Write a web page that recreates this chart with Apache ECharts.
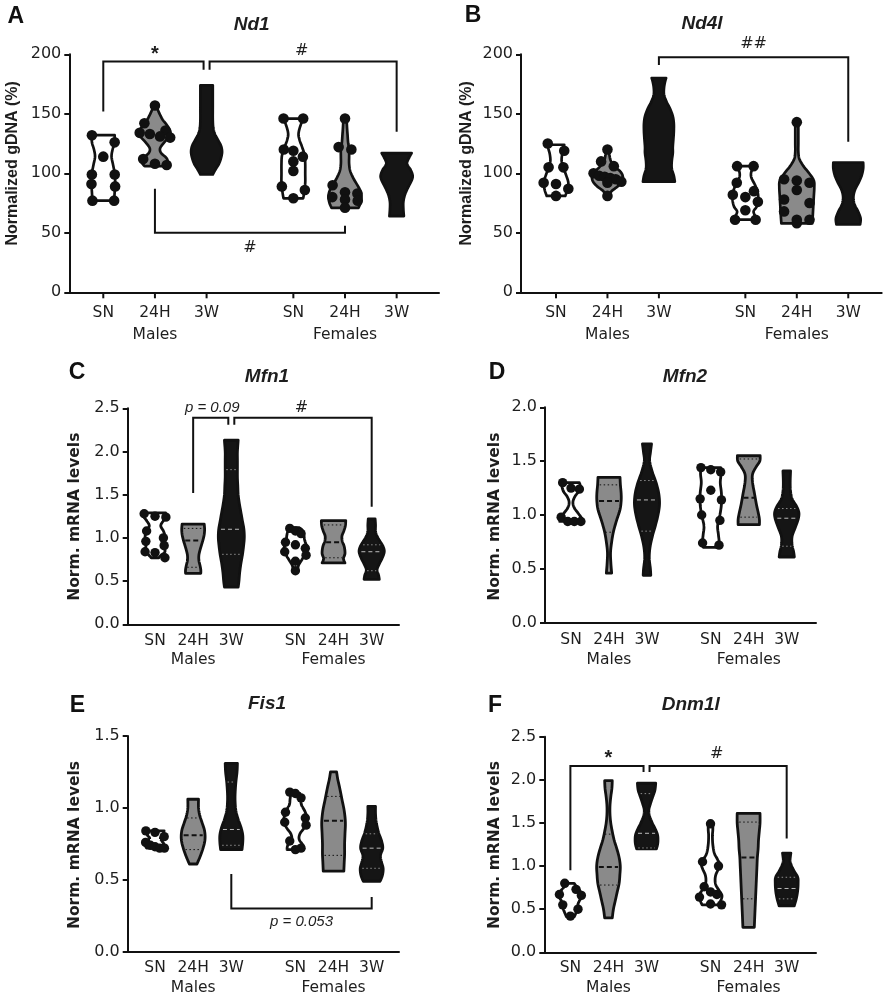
<!DOCTYPE html>
<html><head><meta charset="utf-8">
<script src="https://cdn.jsdelivr.net/npm/echarts@6/dist/echarts.min.js"></script>
<style>html,body{margin:0;padding:0;background:#fff}#c{width:891px;height:1000px}</style>
</head><body><div id="c"></div>
<script>
// ---------------- DATA ----------------
const groupLabels = ['SN','24H','3W','SN','24H','3W'];
const sexLabels = ['Males','Females'];

// violin profiles: [value, half-width in category units]
const nd1Violins = [
  [[77,0.21],[84,0.22],[92,0.23],[100,0.22],[107,0.19],[114,0.16],[120,0.18],[126,0.22],[132,0.22]],
  [[106,0.2],[109,0.25],[113,0.22],[117,0.12],[121,0.1],[126,0.18],[131,0.28],[135,0.3],[140,0.24],[145,0.15],[150,0.09],[154,0.05],[157,0.03]],
  [[99,0.12],[103,0.17],[108,0.24],[113,0.28],[118,0.3],[123,0.28],[128,0.22],[133,0.16],[138,0.13],[145,0.12],[155,0.12],[165,0.12],[170,0.12],[174,0.12]],
  [[79,0.19],[84,0.21],[92,0.23],[100,0.23],[108,0.23],[115,0.22],[122,0.17],[128,0.12],[133,0.1],[139,0.13],[146,0.19]],
  [[71,0.26],[75,0.3],[80,0.32],[85,0.3],[90,0.24],[96,0.16],[102,0.1],[108,0.08],[114,0.08],[120,0.08],[126,0.06],[132,0.05],[138,0.04],[146,0.03]],
  [[64,0.14],[70,0.13],[76,0.13],[82,0.16],[88,0.22],[94,0.29],[98,0.31],[103,0.27],[108,0.2],[113,0.24],[117,0.29]]
];
const nd1Points = [
  [132,126,114,99,99,91,89,77,77],
  [157,142,136,134,133,131,130,112,108,107],
  [],
  [146,146,120,119,114,110,102,89,86,79],
  [146,122,120,90,84,83,80,78,77,71],
  []
];
const nd1Quartiles = [null,null,null,null,null,null];
// brackets: [fromGroup, toGroup, startY, barY, endY, label, labelY]
const nd1Brackets = [
  [0,2,152,194,187,'*',203],
  [2,5,187,194,135,'#',203],
  [1,4,87,50,56,'#',37]
];

const nd4lViolins = [
  [[81,0.18],[86,0.22],[92,0.24],[98,0.2],[104,0.15],[110,0.11],[116,0.12],[121,0.15],[124,0.16]],
  [[81,0.03],[85,0.08],[89,0.2],[93,0.28],[97,0.3],[101,0.26],[105,0.16],[110,0.07],[115,0.04],[120,0.03]],
  [[93,0.31],[98,0.29],[104,0.25],[110,0.25],[117,0.27],[122,0.27],[128,0.28],[135,0.29],[142,0.29],[148,0.27],[154,0.22],[160,0.15],[166,0.1],[172,0.1],[177,0.12],[180,0.14]],
  [[61,0.2],[64,0.19],[68,0.16],[72,0.22],[78,0.25],[84,0.24],[90,0.19],[96,0.12],[100,0.11],[104,0.14],[106,0.16]],
  [[58,0.3],[64,0.31],[72,0.32],[80,0.33],[88,0.34],[94,0.33],[100,0.24],[106,0.13],[112,0.05],[118,0.03],[125,0.03],[132,0.03],[138,0.03],[143,0.03]],
  [[57,0.23],[62,0.24],[68,0.19],[74,0.12],[80,0.1],[86,0.13],[92,0.2],[98,0.26],[104,0.29],[109,0.29]]
];
const nd4lPoints = [
  [125,119,105,105,92,91,87,81],
  [120,110,106,100,98,97,96,95,93,92,81],
  [],
  [106,106,92,85,82,80,76,69,61,61],
  [143,95,94,92,86,78,75,68,61,61,58],
  []
];
const nd4lQuartiles = [null,null,null,null,null,null];
const nd4lBrackets = [
  [2,5,191,197.5,126.6,'##',209]
];

const mfn1Violins = [
  [[0.77,0.1],[0.8,0.16],[0.84,0.26],[0.9,0.24],[0.96,0.24],[1.02,0.26],[1.08,0.22],[1.14,0.15],[1.2,0.22],[1.25,0.3],[1.29,0.28]],
  [[0.59,0.2],[0.63,0.2],[0.68,0.18],[0.74,0.15],[0.8,0.15],[0.86,0.18],[0.92,0.22],[0.98,0.26],[1.04,0.29],[1.1,0.3],[1.16,0.29]],
  [[0.43,0.18],[0.5,0.2],[0.6,0.22],[0.7,0.25],[0.8,0.29],[0.9,0.32],[1.0,0.34],[1.1,0.33],[1.2,0.29],[1.3,0.25],[1.4,0.21],[1.5,0.18],[1.6,0.17],[1.7,0.16],[1.8,0.16],[1.9,0.16],[2.0,0.16],[2.13,0.18]],
  [[0.62,0.06],[0.68,0.08],[0.74,0.16],[0.8,0.24],[0.86,0.3],[0.92,0.28],[0.98,0.24],[1.04,0.22],[1.09,0.18],[1.12,0.1]],
  [[0.71,0.3],[0.76,0.26],[0.82,0.3],[0.9,0.28],[0.96,0.23],[1.02,0.22],[1.08,0.27],[1.14,0.31],[1.2,0.32]],
  [[0.52,0.2],[0.57,0.18],[0.63,0.14],[0.7,0.2],[0.77,0.28],[0.84,0.33],[0.9,0.3],[0.96,0.22],[1.02,0.14],[1.08,0.1],[1.15,0.1],[1.22,0.09]]
];
const mfn1Points = [
  [1.28,1.25,1.24,1.08,1.0,0.96,0.91,0.84,0.83,0.77],
  [],[],
  [1.11,1.08,1.05,0.95,0.92,0.88,0.84,0.8,0.73,0.62],
  [],[]
];
const mfn1Quartiles = [[0.84,1.0,1.24],[0.66,0.97,1.11],[0.81,1.1,1.79],[0.79,0.9,1.05],[0.77,0.95,1.15],[0.62,0.84,0.92]];
const mfn1Brackets = [
  [1,2,1.52,2.39,2.31,'p = 0.09',2.5],
  [2,5,2.31,2.39,1.36,'#',2.5]
];

const mfn2Violins = [
  [[0.94,0.3],[0.97,0.28],[1.02,0.18],[1.07,0.08],[1.12,0.05],[1.17,0.1],[1.22,0.2],[1.27,0.24],[1.30,0.22]],
  [[0.46,0.07],[0.55,0.05],[0.65,0.04],[0.75,0.07],[0.85,0.12],[0.95,0.2],[1.05,0.29],[1.13,0.32],[1.2,0.32],[1.28,0.3],[1.35,0.29]],
  [[0.44,0.1],[0.5,0.09],[0.6,0.06],[0.7,0.08],[0.8,0.14],[0.9,0.22],[1.0,0.29],[1.1,0.33],[1.2,0.31],[1.3,0.24],[1.4,0.14],[1.5,0.07],[1.58,0.09],[1.66,0.12]],
  [[0.70,0.2],[0.75,0.22],[0.82,0.2],[0.9,0.18],[1.0,0.24],[1.1,0.28],[1.2,0.28],[1.3,0.25],[1.38,0.27],[1.44,0.26]],
  [[0.91,0.28],[0.96,0.28],[1.02,0.25],[1.1,0.2],[1.2,0.15],[1.3,0.1],[1.38,0.1],[1.45,0.2],[1.5,0.29],[1.55,0.3]],
  [[0.61,0.2],[0.66,0.18],[0.72,0.14],[0.8,0.14],[0.88,0.22],[0.96,0.3],[1.02,0.32],[1.08,0.26],[1.15,0.14],[1.22,0.1],[1.3,0.09],[1.41,0.1]]
];
const mfn2Points = [
  [1.30,1.25,1.24,0.98,0.94,0.94,0.94],
  [],[],
  [1.44,1.42,1.40,1.23,1.15,1.14,1.0,0.95,0.74,0.72],
  [],[]
];
const mfn2Quartiles = [null,[0.84,1.13,1.28],[0.85,1.14,1.32],[0.9,1.15,1.4],[0.98,1.16,1.52],[0.71,0.97,1.06]];
const mfn2Brackets = [];

const fis1Violins = [
  [[0.72,0.22],[0.74,0.25],[0.77,0.18],[0.79,0.14],[0.81,0.2],[0.84,0.24]],
  [[0.61,0.1],[0.66,0.18],[0.72,0.26],[0.78,0.31],[0.84,0.3],[0.9,0.23],[0.95,0.17],[1.0,0.14],[1.06,0.14]],
  [[0.71,0.28],[0.76,0.3],[0.81,0.3],[0.86,0.26],[0.92,0.18],[0.98,0.12],[1.04,0.1],[1.1,0.1],[1.18,0.12],[1.25,0.15],[1.31,0.16]],
  [[0.71,0.22],[0.74,0.2],[0.78,0.1],[0.82,0.12],[0.87,0.25],[0.92,0.3],[0.97,0.26],[1.02,0.16],[1.06,0.14],[1.1,0.12]],
  [[0.56,0.27],[0.62,0.28],[0.68,0.29],[0.75,0.29],[0.82,0.3],[0.9,0.31],[0.98,0.28],[1.06,0.22],[1.14,0.16],[1.2,0.11],[1.25,0.08]],
  [[0.49,0.22],[0.53,0.28],[0.58,0.3],[0.63,0.25],[0.67,0.23],[0.72,0.29],[0.77,0.26],[0.83,0.18],[0.9,0.12],[0.96,0.1],[1.01,0.1]]
];
const fis1Points = [
  [0.84,0.83,0.80,0.76,0.74,0.73,0.72,0.72],
  [],[],
  [1.11,1.10,1.07,0.97,0.93,0.90,0.88,0.77,0.72,0.71],
  [],[]
];
const fis1Quartiles = [[0.74,0.78,0.82],[0.71,0.81,0.93],[0.74,0.85,1.18],[0.75,0.9,1.0],[0.67,0.91,1.08],[0.58,0.72,0.82]];
const fis1Brackets = [
  [2,5,0.54,0.30,0.38,'p = 0.053',0.21]
];

const dnm1lViolins = [
  [[0.41,0.1],[0.46,0.15],[0.52,0.2],[0.56,0.2],[0.6,0.24],[0.65,0.3],[0.7,0.27],[0.75,0.18],[0.8,0.1]],
  [[0.4,0.1],[0.5,0.13],[0.6,0.18],[0.7,0.23],[0.8,0.28],[0.9,0.3],[1.0,0.31],[1.1,0.28],[1.2,0.22],[1.3,0.15],[1.4,0.1],[1.5,0.06],[1.6,0.04],[1.7,0.04],[1.8,0.06],[1.9,0.09],[1.99,0.1]],
  [[1.2,0.26],[1.25,0.29],[1.3,0.3],[1.36,0.29],[1.42,0.24],[1.5,0.15],[1.58,0.08],[1.65,0.06],[1.72,0.1],[1.8,0.16],[1.88,0.22],[1.96,0.24]],
  [[0.55,0.22],[0.6,0.27],[0.66,0.3],[0.72,0.22],[0.78,0.14],[0.84,0.12],[0.9,0.14],[0.96,0.2],[1.02,0.24],[1.08,0.18],[1.15,0.1],[1.25,0.06],[1.35,0.05],[1.42,0.06],[1.49,0.06]],
  [[0.29,0.15],[0.4,0.16],[0.5,0.17],[0.6,0.18],[0.7,0.19],[0.8,0.2],[0.9,0.21],[1.0,0.22],[1.1,0.23],[1.2,0.25],[1.3,0.26],[1.4,0.28],[1.5,0.3],[1.61,0.3]],
  [[0.54,0.2],[0.6,0.24],[0.66,0.27],[0.72,0.29],[0.8,0.3],[0.87,0.29],[0.94,0.2],[1.0,0.13],[1.06,0.09],[1.12,0.1],[1.15,0.11]]
];
const dnm1lPoints = [
  [0.80,0.73,0.67,0.66,0.55,0.50,0.42],
  [],[],
  [1.49,1.05,1.0,0.76,0.70,0.67,0.64,0.56,0.55],
  [],[]
];
const dnm1lQuartiles = [[0.5,0.6,0.72],[0.78,0.99,1.37],[1.21,1.38,1.84],[0.62,0.7,1.02],[0.62,1.1,1.51],[0.62,0.74,0.87]];
const dnm1lBrackets = [
  [0,2,0.95,2.16,2.09,'*',2.29],
  [2,5,2.09,2.16,1.32,'#',2.3]
];

// ---------------- LAYOUT / STYLE ----------------
const GAP = 1.68;
const POS = [1,2,3,3+GAP,4+GAP,5+GAP];
const FILLS = ['#ffffff','#8a8a8a','#151515'];
const TXT = '#1e1e1e';

const panels = [
  {letter:'A', title:'Nd1', ytitle:'Normalized gDNA (%)', ymax:200, step:50, dec:0,
   V:nd1Violins, P:nd1Points, Q:nd1Quartiles, B:nd1Brackets,
   grid:{left:69.3, top:54.3, width:369.7, height:238}, xmin:0.342, xmax:7.5,
   ticks:true, lblOff:21, grpOff:42.7, r:5.3, lw:2.7,
   titleXY:[251.7,25], letterXY:[15.8,17], ytXY:[13,163.3], ytFont:'bold 16px "Liberation Sans"'},
  {letter:'B', title:'Nd4l', ytitle:'Normalized gDNA (%)', ymax:200, step:50, dec:0,
   V:nd4lViolins, P:nd4lPoints, Q:nd4lQuartiles, B:nd4lBrackets,
   grid:{left:521, top:54.3, width:360.7, height:238}, xmin:0.32, xmax:7.33,
   ticks:true, lblOff:21, grpOff:42.7, r:5.3, lw:2.7,
   titleXY:[702,24], letterXY:[473,16], ytXY:[466.5,163.3], ytFont:'bold 16px "Liberation Sans"'},
  {letter:'C', title:'Mfn1', ytitle:'Norm. mRNA levels', ymax:2.5, step:0.5, dec:1,
   V:mfn1Violins, P:mfn1Points, Q:mfn1Quartiles, B:mfn1Brackets,
   grid:{left:127.7, top:408.3, width:271.3, height:216}, xmin:0.284, xmax:7.396,
   ticks:false, lblOff:16.5, grpOff:36, r:4.7, lw:2.8,
   titleXY:[267,377], letterXY:[77,372.5], ytXY:[75,516.7], ytFont:'bold 15.5px "DejaVu Sans"'},
  {letter:'D', title:'Mfn2', ytitle:'Norm. mRNA levels', ymax:2.0, step:0.5, dec:1,
   V:mfn2Violins, P:mfn2Points, Q:mfn2Quartiles, B:mfn2Brackets,
   grid:{left:545, top:407.3, width:271, height:215.4}, xmin:0.315, xmax:7.45,
   ticks:false, lblOff:17, grpOff:37, r:4.7, lw:2.8,
   titleXY:[685,377], letterXY:[497,373], ytXY:[495,516.7], ytFont:'bold 15.5px "DejaVu Sans"'},
  {letter:'E', title:'Fis1', ytitle:'Norm. mRNA levels', ymax:1.5, step:0.5, dec:1,
   V:fis1Violins, P:fis1Points, Q:fis1Quartiles, B:fis1Brackets,
   grid:{left:127.7, top:736, width:271.3, height:215.7}, xmin:0.284, xmax:7.396,
   ticks:false, lblOff:16.5, grpOff:36.5, r:4.7, lw:2.8,
   titleXY:[267,703.5], letterXY:[77.5,706], ytXY:[75,845], ytFont:'bold 15.5px "DejaVu Sans"'},
  {letter:'F', title:'Dnm1l', ytitle:'Norm. mRNA levels', ymax:2.5, step:0.5, dec:1,
   V:dnm1lViolins, P:dnm1lPoints, Q:dnm1lQuartiles, B:dnm1lBrackets,
   grid:{left:544.3, top:736.7, width:271.7, height:215.6}, xmin:0.315, xmax:7.45,
   ticks:false, lblOff:16, grpOff:36, r:4.7, lw:2.8,
   titleXY:[690.7,704.5], letterXY:[495,706], ytXY:[495,845], ytFont:'bold 15.5px "DejaVu Sans"'}
];

// ---------------- HELPERS ----------------
function catmull(pts, seg) {
  seg = seg || 6;
  const out = [];
  for (let i = 0; i < pts.length - 1; i++) {
    const p0 = pts[Math.max(i-1,0)], p1 = pts[i], p2 = pts[i+1], p3 = pts[Math.min(i+2, pts.length-1)];
    for (let k = 0; k < seg; k++) {
      const t = k/seg, t2 = t*t, t3 = t2*t;
      out.push([0,1].map(j => 0.5*((2*p1[j]) + (-p0[j]+p2[j])*t + (2*p0[j]-5*p1[j]+4*p2[j]-p3[j])*t2 + (-p0[j]+3*p1[j]-3*p2[j]+p3[j])*t3)));
    }
  }
  out.push(pts[pts.length-1]);
  return out;
}
function hwAt(prof, v) {
  if (v <= prof[0][0]) return prof[0][1];
  for (let i = 0; i < prof.length - 1; i++) {
    const a = prof[i], b = prof[i+1];
    if (v >= a[0] && v <= b[0]) return a[1] + (b[1]-a[1]) * (v-a[0])/(b[0]-a[0]);
  }
  return prof[prof.length-1][1];
}

// ---------------- OPTION ----------------
const grids = [], xAxes = [], yAxes = [], series = [], graphics = [];

panels.forEach((p, k) => {
  grids.push(Object.assign({containLabel:false}, p.grid));
  xAxes.push({type:'value', gridIndex:k, min:p.xmin, max:p.xmax,
    axisLine:{show:true, onZero:false, lineStyle:{color:'#111', width:2}},
    axisTick:{show:false}, axisLabel:{show:false}, splitLine:{show:false}});
  yAxes.push({type:'value', gridIndex:k, min:0, max:p.ymax, interval:p.step,
    axisLine:{show:true, lineStyle:{color:'#111', width:2}},
    axisTick:{show:true, length:5, lineStyle:{color:'#111', width:2}},
    axisLabel:{margin:8, color:TXT, fontFamily:'DejaVu Sans', fontSize:16,
      formatter: v => v.toFixed(p.dec)},
    splitLine:{show:false}});

  const baseData = POS.map((x, i) => [x, 0, i]);

  // violins + quartile lines
  series.push({type:'custom', xAxisIndex:k, yAxisIndex:k, clip:false, silent:true,
    data: baseData, encode:{x:0, y:1},
    renderItem: (params, api) => {
      const i = api.value(2), x = POS[i], prof = p.V[i];
      const left = prof.map(([v, w]) => api.coord([x - w, v]));
      const right = prof.map(([v, w]) => api.coord([x + w, v]));
      const poly = catmull(left).concat(catmull(right).reverse());
      const kind = i % 3;
      const children = [{type:'polygon', shape:{points:poly},
        style:{fill:FILLS[kind], stroke:'#111', lineWidth:p.lw, lineJoin:'round'}}];
      const q = p.Q[i];
      if (q) {
        q.forEach((v, j) => {
          const w = hwAt(prof, v) * 0.82;
          const a = api.coord([x - w, v]), b = api.coord([x + w, v]);
          let stroke, lw, dash;
          if (kind === 0) { stroke = '#ffffff'; lw = 1; dash = j === 1 ? [4,3] : [1.5,2.5]; }
          else if (kind === 1) { stroke = '#111'; lw = j === 1 ? 2 : 1; dash = j === 1 ? [5,3] : [1.5,2.5]; }
          else { stroke = j === 1 ? '#bdbdbd' : '#8f8f8f'; lw = 1; dash = j === 1 ? [4,3] : [1.5,2.5]; }
          children.push({type:'line', shape:{x1:a[0], y1:a[1], x2:b[0], y2:b[1]},
            style:{stroke, lineWidth:lw, lineDash:dash}});
        });
      }
      return {type:'group', children};
    }});

  // dots (binned swarm)
  series.push({type:'custom', xAxisIndex:k, yAxisIndex:k, clip:false, silent:true,
    data: baseData, encode:{x:0, y:1},
    renderItem: (params, api) => {
      const i = api.value(2), x = POS[i], vals = p.P[i].slice().sort((a,b)=>b-a);
      if (!vals.length) return {type:'group', children:[]};
      const d = 2 * p.r;
      const px = vals.map(v => api.coord([x, v]));
      const rows = [];
      let cur = null;
      vals.forEach((v, j) => {
        if (cur && px[j][1] - cur.y0 < d * 0.85) cur.items.push(j);
        else { cur = {y0: px[j][1], items:[j]}; rows.push(cur); }
      });
      const children = [];
      rows.forEach(row => {
        const n = row.items.length;
        const vm = vals[row.items[0]];
        const hwPx = api.coord([x + hwAt(p.V[i], vm), vm])[0] - px[row.items[0]][0];
        let s = Math.min(1.2 * d, Math.max(hwPx, 0.6 * d));
        let offs;
        if (n === 1) offs = [0];
        else if (n === 2) offs = [-s, s];
        else if (n === 3) offs = [-s, 0, s];
        else { const ss = Math.min(s * 0.9, 2 * Math.max(hwPx, d) / (n - 1)); offs = row.items.map((_, t) => (t - (n-1)/2) * ss); }
        row.items.forEach((j, t) => {
          children.push({type:'circle', shape:{cx: px[j][0] + offs[t], cy: px[j][1], r: p.r},
            style:{fill:'#111'}});
        });
      });
      return {type:'group', children};
    }});

  // category labels, ticks, group labels
  series.push({type:'custom', xAxisIndex:k, yAxisIndex:k, clip:false, silent:true,
    data: baseData, encode:{x:0, y:1},
    renderItem: (params, api) => {
      const i = api.value(2);
      const c = api.coord([POS[i], 0]);
      const children = [{type:'text', x:c[0], y:c[1] + p.lblOff,
        style:{text:groupLabels[i], fill:TXT, font:'15.5px "DejaVu Sans"', align:'center', verticalAlign:'middle'}}];
      if (p.ticks) children.push({type:'line', shape:{x1:c[0], y1:c[1], x2:c[0], y2:c[1] + 6},
        style:{stroke:'#111', lineWidth:2}});
      if (i % 3 === 1) children.push({type:'text', x:c[0], y:c[1] + p.grpOff,
        style:{text:sexLabels[Math.floor(i/3)], fill:TXT, font:'15.5px "DejaVu Sans"', align:'center', verticalAlign:'middle'}});
      return {type:'group', children};
    }});

  // significance brackets
  if (p.B.length) {
    series.push({type:'custom', xAxisIndex:k, yAxisIndex:k, clip:false, silent:true,
      data: p.B.map((b, bi) => [(POS[b[0]] + POS[b[1]]) / 2, b[3], bi]), encode:{x:0, y:1},
      renderItem: (params, api) => {
        const bi = api.value(2), b = p.B[bi];
        let n1 = 0, n2 = 0;
        p.B.forEach((o, oi) => {
          if (oi === bi) return;
          if (o[0] === b[1]) n2 = -3;
          if (o[1] === b[0]) n1 = 3;
        });
        const a1 = api.coord([POS[b[0]], b[2]]), t1 = api.coord([POS[b[0]], b[3]]);
        const t2 = api.coord([POS[b[1]], b[3]]), a2 = api.coord([POS[b[1]], b[4]]);
        const pts = [[a1[0]+n1, a1[1]], [t1[0]+n1, t1[1]], [t2[0]+n2, t2[1]], [a2[0]+n2, a2[1]]];
        const lc = api.coord([(POS[b[0]] + POS[b[1]]) / 2, b[6]]);
        const italic = b[5].charAt(0) === 'p';
        const font = italic ? 'italic 15px "Liberation Sans"' : (b[5] === '*' ? 'bold 20px "Liberation Sans"' : '16px "DejaVu Sans"');
        return {type:'group', children:[
          {type:'polyline', shape:{points:pts}, style:{stroke:'#111', lineWidth:2, fill:null, lineJoin:'miter'}},
          {type:'text', x:lc[0], y:lc[1] + (b[5] === '*' ? 4 : 0), style:{text:b[5], fill:TXT, font, align:'center', verticalAlign:'middle'}}
        ]};
      }});
  }

  graphics.push({type:'text', x:p.titleXY[0], y:p.titleXY[1],
    style:{text:p.title, fill:TXT, font:'italic bold 19px "Liberation Sans"', align:'center', verticalAlign:'middle'}});
  graphics.push({type:'text', x:p.letterXY[0], y:p.letterXY[1],
    style:{text:p.letter, fill:'#111', font:'bold 23px "Liberation Sans"', align:'center', verticalAlign:'middle'}});
  graphics.push({type:'text', x:p.ytXY[0], y:p.ytXY[1], rotation:Math.PI/2,
    style:{text:p.ytitle, fill:TXT, font:p.ytFont, align:'center', verticalAlign:'middle'}});
});

const chart = echarts.init(document.getElementById('c'), null, {renderer:'canvas', width:891, height:1000});
chart.setOption({
  animation:false,
  backgroundColor:'#ffffff',
  grid:grids, xAxis:xAxes, yAxis:yAxes, series, graphic:graphics
});
</script>
</body></html>
